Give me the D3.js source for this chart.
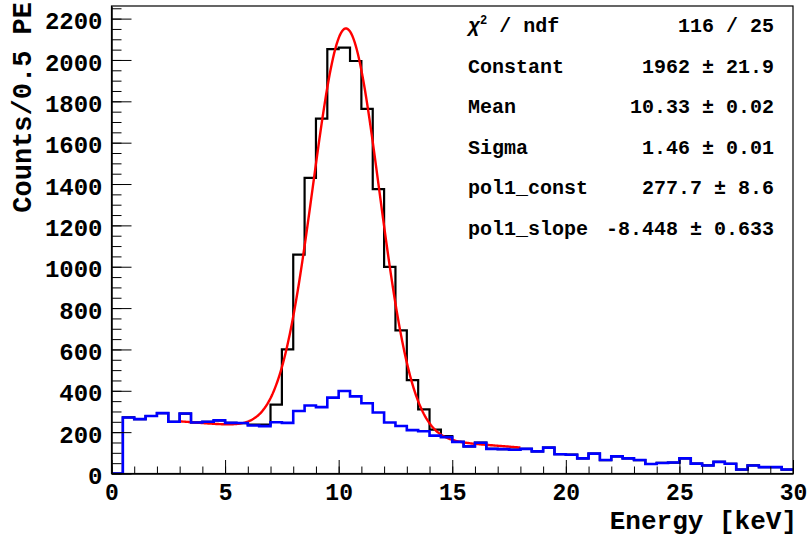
<!DOCTYPE html>
<html>
<head>
<meta charset="utf-8">
<script src="https://cdn.jsdelivr.net/npm/d3@7"></script>
<style>
  html, body { margin: 0; padding: 0; background: #fff; }
  svg { display: block; }
  text { font-family: "Liberation Mono", "Courier New", monospace; font-weight: bold; fill: #000; }
</style>
</head>
<body>
<div id="chart"></div>
<script>
// bin width 0.5 keV, 60 bins from 0 to 30
const binLow = d3.range(0, 30, 0.5);

// blue spectrum
const blueCounts = [
  0, 271, 263, 278, 292, 250, 290, 247, 250, 257,
  245, 244, 232, 229, 248, 245, 302, 329, 321, 367,
  399, 373, 340, 295, 247, 230, 210, 204, 183, 176,
  153, 131, 149, 119, 118, 115, 119, 107, 125, 93,
  91, 73, 96, 65, 83, 73, 65, 46, 51, 53,
  73, 48, 39, 56, 47, 19, 39, 31, 31, 19
];

// black spectrum (hidden under blue outside the peak)
const blackCounts = [
  0, 271, 263, 278, 292, 250, 290, 247, 250, 257,
  245, 244, 237, 236, 333, 600, 1059, 1430, 1716, 2052,
  2060, 1995, 1763, 1375, 999, 692, 452, 310, 212, 181,
  153, 131, 149, 119, 118, 115, 119, 107, 125, 93,
  91, 73, 96, 65, 83, 73, 65, 46, 51, 53,
  73, 48, 39, 56, 47, 19, 39, 31, 31, 19
];

// fit: gaus + pol1, range 3..18 keV
const fitRange = [3, 18];
const fitConstant = 1962, fitMean = 10.33, fitSigma = 1.46;
const pol1Const = 277.7, pol1Slope = -8.448;

const statNames = ["χ2 / ndf", "Constant", "Mean", "Sigma", "pol1_const", "pol1_slope"];
const statValues = ["116 / 25", "1962 ± 21.9", "10.33 ± 0.02", "1.46 ± 0.01", "277.7 ± 8.6", "-8.448 ± 0.633"];

const xTicks = [0, 5, 10, 15, 20, 25, 30];
const yTicks = [0, 200, 400, 600, 800, 1000, 1200, 1400, 1600, 1800, 2000, 2200];

const width = 808, height = 536;
const pLeft = 111.5, pRight = 793, pTop = 6, pBottom = 473.5;

const svg = d3.select("#chart").append("svg")
  .attr("width", width).attr("height", height);

const x = d3.scaleLinear().domain([0, 30]).range([pLeft, pRight]);
const y = d3.scaleLinear().domain([0, 2261]).range([pBottom, pTop]);

svg.append("defs").append("clipPath").attr("id", "clip")
  .append("rect").attr("x", pLeft).attr("y", pTop)
  .attr("width", pRight - pLeft).attr("height", pBottom - pTop);

const plot = svg.append("g").attr("clip-path", "url(#clip)");

const step = d3.line().curve(d3.curveStepAfter)
  .x(d => x(d[0])).y(d => y(d[1]));

function histPoints(counts) {
  const pts = binLow.map((b, i) => [b, counts[i]]);
  pts.push([30, counts[counts.length - 1]]);
  return pts;
}

plot.append("path")
  .attr("d", step(histPoints(blackCounts)))
  .attr("fill", "none").attr("stroke", "#000").attr("stroke-width", 2.2);

plot.append("path")
  .attr("d", d3.line().x(d => x(d[0])).y(d => y(d[1]))(
    d3.range(fitRange[0], fitRange[1] + 0.001, 0.05).map(e => [e,
      fitConstant * Math.exp(-0.5 * Math.pow((e - fitMean) / fitSigma, 2)) + pol1Const + pol1Slope * e])))
  .attr("fill", "none").attr("stroke", "#ff0000").attr("stroke-width", 2.4);

plot.append("path")
  .attr("d", step(histPoints(blueCounts)))
  .attr("fill", "none").attr("stroke", "#0000ff").attr("stroke-width", 2.6);

// frame
svg.append("rect")
  .attr("x", pLeft).attr("y", pTop)
  .attr("width", pRight - pLeft).attr("height", pBottom - pTop)
  .attr("fill", "none").attr("stroke", "#000").attr("stroke-width", 1.2);

// x axis: minor then major
svg.append("g").attr("transform", `translate(0,${pBottom})`)
  .call(d3.axisBottom(x).tickValues(d3.range(0, 31, 1)).tickSize(-7).tickSizeOuter(0).tickFormat(""))
  .call(g => g.select(".domain").remove());
const xAxis = svg.append("g").attr("transform", `translate(0,${pBottom})`)
  .call(d3.axisBottom(x).tickValues(xTicks).tickSize(-13.5).tickSizeOuter(0).tickPadding(10).tickFormat(d3.format("d")));
xAxis.select(".domain").attr("stroke-width", 1.5);
xAxis.selectAll("text").style("font-size", "23px").attr("fill", "#000");

// y axis: minor then major
svg.append("g").attr("transform", `translate(${pLeft},0)`)
  .call(d3.axisLeft(y).tickValues(d3.range(0, 2261, 50)).tickSize(-10).tickSizeOuter(0).tickFormat(""))
  .call(g => g.select(".domain").remove());
const yAxis = svg.append("g").attr("transform", `translate(${pLeft},0)`)
  .call(d3.axisLeft(y).tickValues(yTicks).tickSize(-20).tickSizeOuter(0).tickPadding(9).tickFormat(d3.format("d")));
yAxis.select(".domain").attr("stroke-width", 1.5);
yAxis.selectAll("text").style("font-size", "24px").attr("dy", "0.42em").attr("fill", "#000");

// axis titles
svg.append("text")
  .attr("x", 797).attr("y", 529)
  .attr("text-anchor", "end").style("font-size", "26px")
  .text("Energy [keV]");
svg.append("text")
  .attr("transform", "translate(31,2) rotate(-90)")
  .attr("text-anchor", "end").style("font-size", "27px")
  .text("Counts/0.5 PE");

// stats box
const stats = svg.append("g");
statNames.forEach((n, i) => {
  const yy = 32 + 40.5 * i;
  const t = stats.append("text").attr("x", 468).attr("y", yy).style("font-size", "20px");
  if (i === 0) {
    t.append("tspan").style("font-style", "italic").text("χ");
    t.append("tspan").attr("dy", -8).style("font-size", "12px").text("2");
    t.append("tspan").attr("dy", 8).text(" / ndf");
  } else {
    t.text(n);
  }
  stats.append("text").attr("x", 774).attr("y", yy)
    .attr("text-anchor", "end").style("font-size", "20px")
    .text(statValues[i]);
});
</script>
</body>
</html>
